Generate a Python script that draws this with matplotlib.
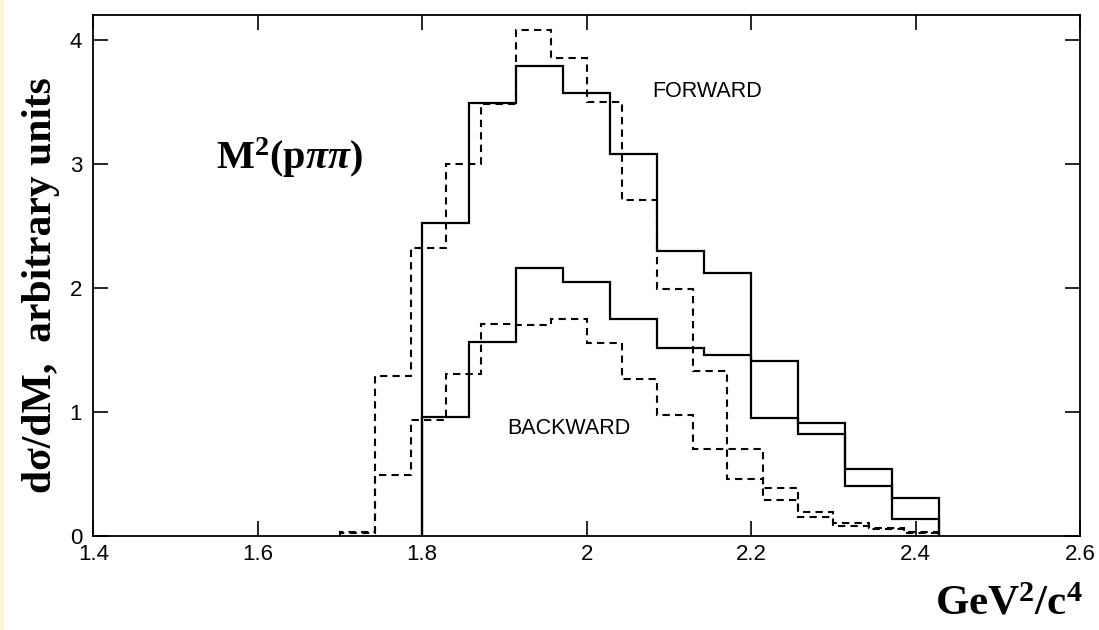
import numpy as np
import matplotlib
matplotlib.use("Agg")
import matplotlib.pyplot as plt
from matplotlib.patches import Rectangle

plt.rcParams['font.family'] = ['Liberation Sans', 'DejaVu Sans']
plt.rcParams['mathtext.fontset'] = 'custom'
plt.rcParams['mathtext.rm'] = 'Liberation Serif:bold'
plt.rcParams['mathtext.bf'] = 'Liberation Serif:bold'
plt.rcParams['mathtext.it'] = 'Liberation Serif:italic:bold'

# solid histograms (bin width ~0.057)
solid_edges = [1.800, 1.857, 1.914, 1.971, 2.029, 2.086, 2.143, 2.200, 2.257, 2.314, 2.371, 2.429]
solid_fwd = [2.52, 3.49, 3.79, 3.57, 3.08, 2.30, 2.12, 1.41, 0.91, 0.54, 0.30]
solid_bwd = [0.96, 1.56, 2.16, 2.05, 1.75, 1.51, 1.46, 0.95, 0.82, 0.40, 0.13]

# dashed histograms (bin width ~0.043)
dash_edges = [1.700, 1.743, 1.786, 1.829, 1.871, 1.914, 1.957, 2.000, 2.043,
              2.086, 2.129, 2.171, 2.214, 2.257, 2.300, 2.343, 2.386, 2.429]
dash_fwd = [0.03, 1.29, 2.32, 3.00, 3.48, 4.08, 3.85, 3.50, 2.71,
            1.99, 1.33, 0.46, 0.29, 0.15, 0.08, 0.05, 0.02]
dash_bwd = [0.02, 0.49, 0.93, 1.30, 1.71, 1.70, 1.75, 1.55, 1.26,
            0.97, 0.70, 0.70, 0.38, 0.19, 0.10, 0.06, 0.03]

xticks = [1.4, 1.6, 1.8, 2.0, 2.2, 2.4, 2.6]
xticklabels = ["1.4", "1.6", "1.8", "2", "2.2", "2.4", "2.6"]
yticks = [0, 1, 2, 3, 4]

fig = plt.figure(figsize=(10.99, 6.30), dpi=100)
fig.patches.append(Rectangle((0, 0), 4 / 1099, 1, transform=fig.transFigure,
                             facecolor="#fdf6cf", edgecolor="none"))
ax = fig.add_axes([0.0849, 0.150, 0.8978, 0.826])

ax.stairs(solid_fwd, solid_edges, color="black", lw=1.6)
ax.stairs(solid_bwd, solid_edges, color="black", lw=1.6)
ax.stairs(dash_fwd, dash_edges, color="black", lw=1.5, linestyle=(0, (3.5, 2.5)))
ax.stairs(dash_bwd, dash_edges, color="black", lw=1.5, linestyle=(0, (3.5, 2.5)))

ax.set_xlim(1.4, 2.6)
ax.set_ylim(0, 4.2)
ax.set_xticks(xticks)
ax.set_xticklabels(xticklabels)
ax.set_yticks(yticks)
ax.tick_params(direction="in", length=11, width=1.2, labelsize=16,
               top=True, right=True, labeltop=False, labelright=False)
ax.tick_params(axis="x", pad=6)
ax.tick_params(axis="y", pad=8)
for s in ax.spines.values():
    s.set_linewidth(1.3)

ax.text(2.146, 3.58, "FORWARD", fontsize=15.5, ha="center", va="center")
ax.text(1.978, 0.867, "BACKWARD", fontsize=15.5, ha="center", va="center")
ax.text(1.638, 3.05, r"M$^{\mathbf{2}}$(p$\pi\pi$)", family="Liberation Serif",
        fontweight="bold", fontsize=29, ha="center", va="center")

fig.text(0.037, 0.548, "dσ/dM,  arbitrary units", family="Liberation Serif",
         fontweight="bold", fontsize=30, rotation=90, ha="center", va="center")
fig.text(0.918, 0.040, r"GeV$^{\mathbf{2}}$/c$^{\mathbf{4}}$", family="Liberation Serif",
         fontweight="bold", fontsize=31, ha="center", va="center")

fig.savefig("out.png", dpi=100)
